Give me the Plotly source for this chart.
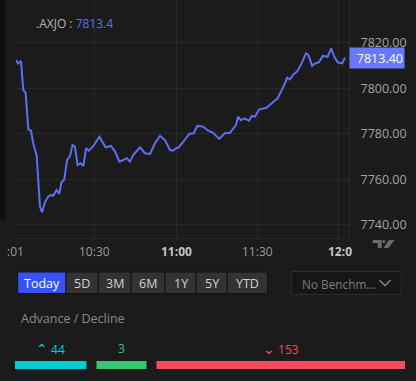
import plotly.graph_objects as go

# ---------------- data ----------------
symbol = ".AXJO"
last_price = 7813.4
# minutes after 10:00
minutes = [0.86, 1.6, 2.7, 3.55, 4.4, 5.4, 6.4, 7.2, 8.5, 9.7, 10.5, 11.5, 12.7, 13.7, 14.6,
           15.8, 16.8, 17.6, 18.6, 19.7, 20.8, 21.7, 22.6, 23.6, 24.7, 25.7, 26.7, 27.7, 29.4,
           31.6, 33.9, 35.9, 37.4, 39.0, 40.4, 41.7, 42.9, 44.1, 46.6, 48.4, 50.3, 52.1, 54.0,
           55.8, 57.7, 58.7, 59.9, 60.7, 62.6, 64.8, 66.5, 67.7, 69.9, 71.8, 73.6, 75.8, 77.9,
           79.8, 82.0, 82.8, 83.7, 85.3, 86.8, 87.8, 89.0, 90.6, 93.3, 95.2, 97.4, 99.5, 100.9,
           101.9, 103.2, 104.6, 106.2, 107.8, 108.7, 110.1, 111.1, 112.6, 114.0, 115.8, 117.1,
           118.3, 119.5, 121.2, 122.2]
values = [7812.4, 7810.9, 7812.0, 7799.2, 7798.0, 7781.9, 7781.2, 7775.8, 7770.2, 7747.9, 7745.4,
          7749.7, 7752.3, 7753.0, 7752.7, 7755.2, 7753.5, 7758.5, 7759.6, 7768.4, 7770.2, 7775.0,
          7774.3, 7766.2, 7767.0, 7765.8, 7773.6, 7772.5, 7774.6, 7778.7, 7774.0, 7774.6, 7772.1,
          7767.7, 7768.4, 7769.2, 7767.7, 7770.6, 7774.0, 7771.4, 7771.1, 7775.8, 7779.0, 7777.2,
          7772.8, 7772.5, 7773.6, 7773.8, 7776.5, 7779.9, 7780.2, 7783.4, 7783.1, 7781.3, 7780.4,
          7777.7, 7780.2, 7780.4, 7783.8, 7787.5, 7786.0, 7786.6, 7785.7, 7787.8, 7787.5, 7790.7,
          7791.4, 7793.4, 7795.6, 7800.7, 7804.6, 7803.9, 7806.1, 7807.4, 7810.9, 7815.3, 7814.6,
          7809.8, 7810.9, 7811.4, 7814.2, 7813.8, 7817.5, 7813.8, 7811.4, 7810.9, 7813.4]
x_tick_minutes = [1, 30, 60, 90, 120]
x_tick_labels = [":01", "10:30", "11:00", "11:30", "12:0"]
x_tick_bold = [False, False, True, False, True]
y_ticks = [7740, 7760, 7780, 7800, 7820]
range_buttons = ["Today", "5D", "3M", "6M", "1Y", "5Y", "YTD"]
benchmark_label = "No Benchm..."
breadth_title = "Advance / Decline"
breadth_names = ["Advance", "Unchanged", "Decline"]
breadth_counts = [44, 3, 153]
breadth_prefix = ["⌃", "", "⌄"]

# ---------------- layout helpers ----------------
W, H = 416, 381
def px(x): return x / W
def py(y): return 1 - y / H

X0_PX, X1_PX = 16, 349
XR = [0.86, 123.7]
def mx(m):  # minutes -> pixel x
    return X0_PX + (m - XR[0]) * (X1_PX - X0_PX) / (XR[1] - XR[0])

BG = "#1b1b1b"
GRID = "#282828"
LINE = "#5c6ff2"
TAG = "#6878fb"
FONT = "Open Sans"

fig = go.Figure()
fig.add_trace(go.Scatter(x=minutes, y=values, mode="lines",
                         line=dict(color=LINE, width=2), hoverinfo="skip",
                         xaxis="x", yaxis="y", showlegend=False))

# breadth bars: widths with a minimum width, the rest proportional to counts
bar_left, bar_right, gap, min_w = 15, 405, 10, 50
avail = bar_right - bar_left - gap * (len(breadth_counts) - 1)
clamped = [False] * len(breadth_counts)
for _ in range(len(breadth_counts)):
    free = avail - min_w * sum(clamped)
    k = free / sum(c for c, cl in zip(breadth_counts, clamped) if not cl)
    clamped = [cl or c * k < min_w for c, cl in zip(breadth_counts, clamped)]
widths = [min_w if cl else c * k for c, cl in zip(breadth_counts, clamped)]
bases = []
pos = bar_left
for w in widths:
    bases.append(pos)
    pos += w + gap
bar_colors = ["#00ced3", "#37c673", "#f34b5f"]
fig.add_trace(go.Bar(x=widths, base=bases, y=[0] * 3, orientation="h", width=0.8,
                     marker=dict(color=bar_colors, line=dict(width=0)),
                     xaxis="x2", yaxis="y2", hoverinfo="skip", showlegend=False))

fig.update_layout(
    width=W, height=H, margin=dict(l=0, r=0, t=0, b=0),
    paper_bgcolor=BG, plot_bgcolor=BG,
    font=dict(family=FONT, color="#9a9a9a", size=12),
    xaxis=dict(domain=[px(X0_PX), px(X1_PX)], range=XR,
               tickvals=x_tick_minutes, ticktext=["" for _ in x_tick_labels],
               showgrid=True, gridcolor=GRID, gridwidth=1, zeroline=False,
               showline=True, linecolor=GRID, linewidth=1, ticks="", fixedrange=True),
    yaxis=dict(domain=[py(238), 1], range=[7734.1, 7838.8], side="right",
               tickvals=y_ticks, ticktext=[f"{v:.2f}" for v in y_ticks],
               tickfont=dict(color="#a3a3a3", size=12.5), ticklabelstandoff=8,
               showgrid=True, gridcolor=GRID, gridwidth=1, zeroline=False,
               showline=True, linecolor=GRID, linewidth=1, ticks=""),
    xaxis2=dict(domain=[0, 1], range=[0, W], visible=False, anchor="y2"),
    yaxis2=dict(domain=[py(375), py(355)], range=[-1, 1], visible=False, anchor="x2"),
    barmode="overlay",
)

shapes = []
ann = []

# left dark strip
shapes.append(dict(type="rect", xref="paper", yref="paper", x0=0, x1=px(5),
                   y0=py(220), y1=1, fillcolor="#0e0e0e", line=dict(width=0), layer="below"))

# x tick labels
for m, lab, b in zip(x_tick_minutes, x_tick_labels, x_tick_bold):
    xa = "center"
    xx = mx(m)
    if lab.startswith(":"):
        xa = "left"; xx = 4.5
    if m == x_tick_minutes[-1]:
        xa = "left"; xx = mx(m) - 13
    ann.append(dict(xref="paper", yref="paper", x=px(xx), y=py(251), xanchor=xa, yanchor="middle",
                    text=f"<b>{lab}</b>" if b else lab, showarrow=False,
                    font=dict(size=12, color="#c4c4c4" if b else "#9a9a9a")))

# title
ann.append(dict(xref="paper", yref="paper", x=px(34), y=py(23), xanchor="left", yanchor="middle",
                text=f"{symbol} : <span style='color:{LINE}'>{last_price}</span>",
                showarrow=False, font=dict(size=12, color="#b3b3b3")))

# price tag
ann.append(dict(xref="paper", yref="y", x=px(348.5), y=last_price, xanchor="left", yanchor="middle",
                text=f"{last_price:.2f}", showarrow=False, bgcolor=TAG, width=52, height=18,
                borderpad=1, align="right", font=dict(size=12.5, color="#ffffff")))
shapes.append(dict(type="line", xref="paper", yref="y", x0=px(349.5), x1=px(353),
                   y0=last_price, y1=last_price, line=dict(color="#ffffff", width=1)))

# TradingView-ish logo
logo = "#6c6c6c"
shapes.append(dict(type="path", xref="paper", yref="paper",
                   path=f"M {px(372.7)},{py(240)} L {px(381.7)},{py(240)} L {px(381.7)},{py(248)} "
                        f"L {px(377.7)},{py(248)} L {px(377.7)},{py(243)} L {px(372.7)},{py(243)} Z",
                   fillcolor=logo, line=dict(width=0)))
shapes.append(dict(type="circle", xref="paper", yref="paper", x0=px(382.3), x1=px(385.3),
                   y0=py(243), y1=py(240), fillcolor=logo, line=dict(width=0)))
shapes.append(dict(type="path", xref="paper", yref="paper",
                   path=f"M {px(383.5)},{py(248)} L {px(389)},{py(240)} L {px(394.3)},{py(240)} "
                        f"L {px(388.5)},{py(248)} Z",
                   fillcolor=logo, line=dict(width=0)))

# range buttons
btn_edges = [17.7, 66, 98.3, 131, 165, 196.3, 227.3, 267.5]
for i, lab in enumerate(range_buttons):
    x0, x1 = btn_edges[i], btn_edges[i + 1]
    active = i == 0
    shapes.append(dict(type="rect", xref="paper", yref="paper", x0=px(x0), x1=px(x1),
                       y0=py(293.5), y1=py(272), fillcolor="#3653f6" if active else "#333333",
                       line=dict(color="#121212", width=1)))
    ann.append(dict(xref="paper", yref="paper", x=px((x0 + x1) / 2), y=py(283), xanchor="center",
                    yanchor="middle", text=lab, showarrow=False,
                    font=dict(size=12.5, color="#ffffff" if active else "#d2d2d2")))

# benchmark dropdown
shapes.append(dict(type="rect", xref="paper", yref="paper", x0=px(291.3), x1=px(401.3),
                   y0=py(294.5), y1=py(271.5), fillcolor="#161616",
                   line=dict(color="#2e2e2e", width=1)))
ann.append(dict(xref="paper", yref="paper", x=px(299.5), y=py(283.5), xanchor="left", yanchor="middle",
                text=benchmark_label, showarrow=False, font=dict(size=11.8, color="#7c7c7c")))
shapes.append(dict(type="path", xref="paper", yref="paper",
                   path=f"M {px(379.3)},{py(280)} L {px(385)},{py(285.5)} L {px(390.7)},{py(280)}",
                   line=dict(color="#8a8a8a", width=1.3)))

# breadth
ann.append(dict(xref="paper", yref="paper", x=px(19), y=py(318), xanchor="left", yanchor="middle",
                text=breadth_title, showarrow=False, font=dict(size=12.5, color="#8a8a8a")))
for b, w, c, pre, col in zip(bases, widths, breadth_counts, breadth_prefix, bar_colors):
    txt = f"<span style='font-size:14px'>{pre}</span> {c}" if pre else f"{c}"
    ann.append(dict(xref="x2", yref="paper", x=b + w / 2, y=py(348), xanchor="center",
                    yanchor="middle", text=txt, showarrow=False,
                    font=dict(size=12, color=col)))

fig.update_layout(shapes=shapes, annotations=ann)
fig.write_html("out.html", config={"displayModeBar": False},
               post_script="document.body.style.margin='0';document.body.style.background='" + BG + "';")
